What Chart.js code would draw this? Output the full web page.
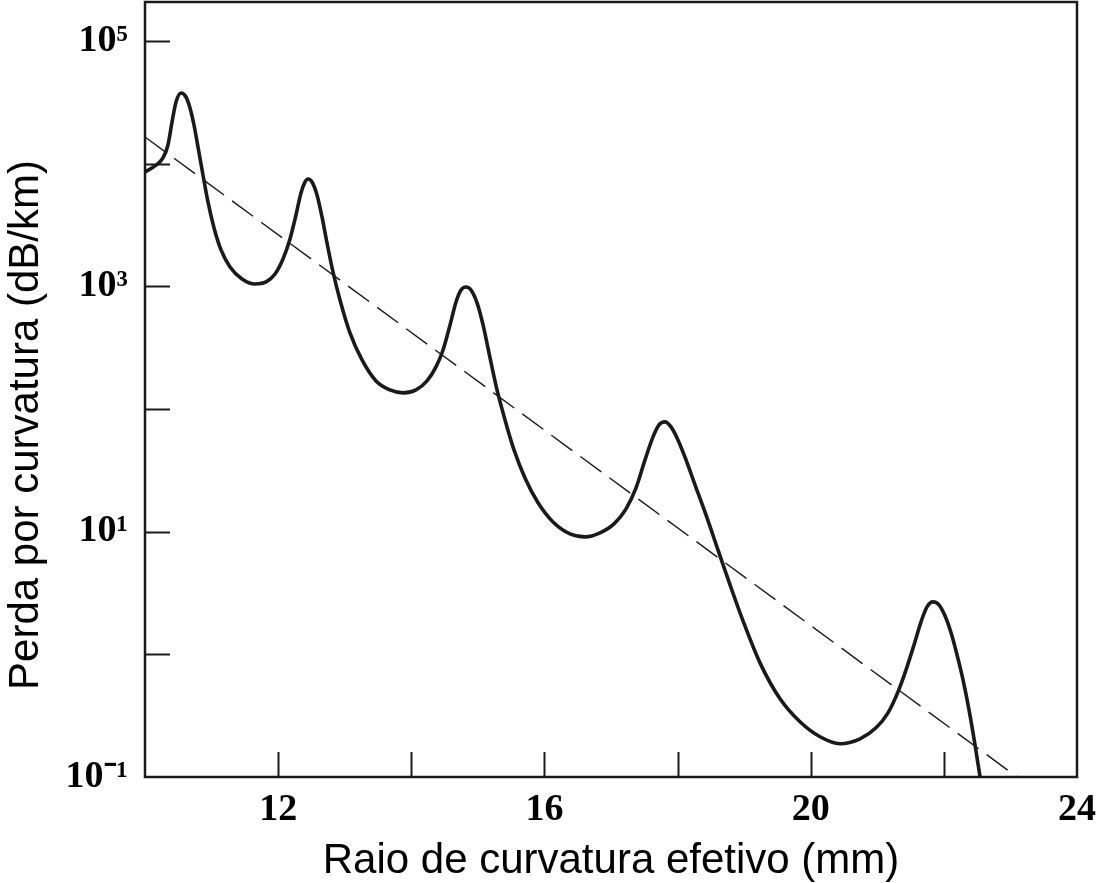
<!DOCTYPE html>
<html>
<head>
<meta charset="utf-8">
<script src="https://cdn.jsdelivr.net/npm/chart.js@4.4.1/dist/chart.umd.min.js"></script>
<style>
  html, body { margin: 0; padding: 0; background: #ffffff; }
  canvas { display: block; }
</style>
</head>
<body>
<canvas id="c" width="1099" height="883"></canvas>
<script>
// Effective bend radius (mm) and bend loss (dB/km) — solid curve
const radius = [
  10.000, 10.150, 10.270, 10.345, 10.406, 10.466, 10.541, 10.616, 10.676, 10.736, 10.796, 10.871, 10.946, 11.037, 11.142, 11.277, 11.457, 11.652, 11.818,
  11.953, 12.073, 12.178, 12.268, 12.343, 12.404, 12.449, 12.509, 12.584, 12.659, 12.734, 12.824, 12.929, 13.079, 13.260, 13.470, 13.680, 13.876, 14.071,
  14.236, 14.371, 14.477, 14.582, 14.672, 14.747, 14.822, 14.897, 14.988, 15.078, 15.183, 15.288, 15.408, 15.543, 15.708, 15.904, 16.129, 16.384, 16.610, 16.835,
  17.045, 17.226, 17.376, 17.511, 17.631, 17.721, 17.811, 17.901, 18.006, 18.127, 18.262, 18.427, 18.607, 18.788, 18.983, 19.238, 19.539, 19.839, 20.140, 20.440,
  20.741, 20.981, 21.161, 21.311, 21.432, 21.552, 21.657, 21.747, 21.837, 21.927, 22.017, 22.108, 22.198, 22.288, 22.378, 22.468, 22.544
];
const loss = [
  8560, 9580, 11130, 14210, 21870, 31830, 37690, 34960, 28450, 20670, 13680, 8090, 4873, 2992, 1980, 1439, 1149, 1046, 1086,
  1262, 1672, 2434, 3818, 5771, 7093, 7506, 7093, 5558, 3678, 2258, 1310, 774.6, 417.1, 251.2, 169.4, 143.1, 135.3, 143.1,
  169.4, 220.3, 303.0, 484.6, 746.1, 934.6, 988.8, 934.6, 732.3, 484.6, 260.9, 143.1, 81.5, 46.4, 27.4, 17.2, 12.0, 9.59, 9.07, 9.78,
  11.57, 15.34, 22.75, 38.47, 59.25, 74.2, 78.5, 71.5, 56.0, 38.47, 24.1, 13.71, 7.10, 3.685, 1.875, 0.852, 0.434, 0.282, 0.2127, 0.1865,
  0.2048, 0.2518, 0.3337, 0.4947, 0.7472, 1.195, 1.840, 2.438, 2.678, 2.532, 2.060, 1.497, 0.9906, 0.6198, 0.3530, 0.1830, 0.1
];

// Dashed trend line
const trendRadius = [10.0, 23.1];
const trendLoss = [16500, 0.1];

// Axis ticks
const xTickMarks = [12, 14, 16, 18, 20, 22];
const xTickLabels = [12, 16, 20, 24];
const yTickMarks = [1, 10, 100, 1000, 10000, 100000];
const yTickValues = [0.1, 10, 1000, 100000];
const yTickText = ['10\u207B\u00B9', '10\u00B9', '10\u00B3', '10\u2075'];

const xTitle = 'Raio de curvatura efetivo (mm)';
const yTitle = 'Perda por curvatura (dB/km)';

const INK = '#1a1a1a';

const framePlugin = {
  id: 'frame',
  afterDatasetsDraw(chart) {
    const {ctx, chartArea: a, scales} = chart;
    ctx.save();
    ctx.strokeStyle = INK;
    ctx.lineWidth = 2.5;
    ctx.strokeRect(a.left, a.top, a.right - a.left, a.bottom - a.top);
    ctx.lineWidth = 2;
    ctx.beginPath();
    xTickMarks.forEach(v => {
      const px = Math.round(scales.x.getPixelForValue(v)) + 0.5;
      ctx.moveTo(px, a.bottom);
      ctx.lineTo(px, a.bottom - 25);
    });
    yTickMarks.forEach(v => {
      const py = Math.round(scales.y.getPixelForValue(v)) + 0.5;
      ctx.moveTo(a.left, py);
      ctx.lineTo(a.left + 25, py);
    });
    ctx.stroke();
    ctx.restore();
  },
  afterDraw(chart) {
    const {ctx, chartArea: a} = chart;
    ctx.save();
    ctx.fillStyle = '#000';
    ctx.font = '42px "Liberation Sans", Arial, sans-serif';
    ctx.textAlign = 'center';
    ctx.textBaseline = 'alphabetic';
    ctx.fillText(xTitle, (a.left + a.right) / 2, 873);
    ctx.translate(38, 425);
    ctx.rotate(-Math.PI / 2);
    ctx.fillText(yTitle, 0, 0);
    ctx.restore();
  }
};

new Chart(document.getElementById('c'), {
  type: 'line',
  data: {
    datasets: [
      {
        data: radius.map((r, i) => ({x: r, y: loss[i]})),
        borderColor: INK,
        borderWidth: 3.6,
        pointRadius: 0,
        cubicInterpolationMode: 'monotone',
        fill: false
      },
      {
        data: trendRadius.map((r, i) => ({x: r, y: trendLoss[i]})),
        borderColor: INK,
        borderWidth: 1.4,
        borderDash: [26, 10],
        pointRadius: 0,
        fill: false
      }
    ]
  },
  options: {
    responsive: false,
    devicePixelRatio: 1,
    animation: false,
    layout: { padding: { left: 0, right: 22, top: 2, bottom: 0 } },
    plugins: { legend: { display: false }, tooltip: { enabled: false } },
    scales: {
      x: {
        type: 'linear',
        min: 10,
        max: 24,
        grid: { display: false, drawTicks: false },
        border: { display: false },
        afterBuildTicks(scale) {
          scale.ticks = xTickLabels.map(v => ({value: v}));
        },
        afterFit(scale) {
          scale.height = 106;
          scale.paddingLeft = 0; scale.paddingRight = 0;
        },
        ticks: {
          padding: 10,
          color: '#000',
          font: { family: '"Liberation Serif", "Times New Roman", serif', size: 38, weight: 'bold' },
          callback: (v) => String(v)
        }
      },
      y: {
        type: 'logarithmic',
        min: 0.1,
        max: 208000,
        grid: { display: false, drawTicks: false },
        border: { display: false },
        afterBuildTicks(scale) {
          scale.ticks = yTickValues.map(v => ({value: v}));
        },
        afterFit(scale) {
          scale.width = 145;
          scale.paddingTop = 0; scale.paddingBottom = 0;
        },
        ticks: {
          padding: 17,
          color: '#000',
          font: { family: '"Liberation Serif", "Times New Roman", serif', size: 38, weight: 'bold' },
          callback: (v) => {
            const i = yTickValues.findIndex(t => Math.abs(Math.log10(t) - Math.log10(v)) < 1e-6);
            return i >= 0 ? yTickText[i] : '';
          }
        }
      }
    }
  },
  plugins: [framePlugin]
});
</script>
</body>
</html>
